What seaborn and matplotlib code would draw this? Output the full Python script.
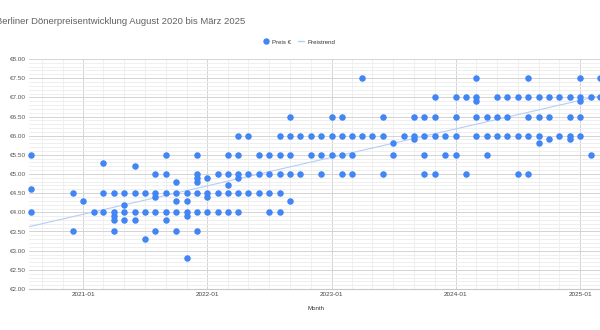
import matplotlib
matplotlib.use("Agg")
import matplotlib.dates as mdates
import matplotlib.pyplot as plt
import pandas as pd
import seaborn as sns
from matplotlib.lines import Line2D
from matplotlib.ticker import FuncFormatter, MultipleLocator

# prices read per month (several shops per month)
months = [
    "2020-08", "2020-12", "2021-01", "2021-02", "2021-03", "2021-04", "2021-05",
    "2021-06", "2021-07", "2021-08", "2021-09", "2021-10", "2021-11", "2021-12",
    "2022-01", "2022-02", "2022-03", "2022-04", "2022-05", "2022-06", "2022-07",
    "2022-08", "2022-09", "2022-10", "2022-11", "2022-12", "2023-01", "2023-02",
    "2023-03", "2023-04", "2023-05", "2023-06", "2023-07", "2023-08", "2023-09",
    "2023-10", "2023-11", "2023-12", "2024-01", "2024-02", "2024-03", "2024-04",
    "2024-05", "2024-06", "2024-07", "2024-08", "2024-09", "2024-10", "2024-11",
    "2024-12", "2025-01", "2025-02", "2025-03",
]
prices = [
    [5.50, 4.60, 4.00], [4.50, 3.50], [4.30], [4.00], [5.30, 4.50, 4.00],
    [4.50, 4.00, 3.90, 3.80, 3.50], [4.50, 4.20, 4.00, 3.80],
    [5.20, 4.50, 4.00, 3.80], [4.50, 4.00, 3.30],
    [5.00, 4.50, 4.40, 4.00, 3.50], [5.50, 5.00, 4.50, 4.00, 3.80],
    [4.80, 4.50, 4.30, 4.00, 3.50], [4.50, 4.30, 4.00, 3.90, 2.80],
    [5.50, 5.00, 4.90, 4.80, 4.50, 4.00, 3.50],
    [4.90, 4.50, 4.40, 4.00], [5.00, 4.50, 4.00], [5.50, 5.00, 4.70, 4.50, 4.00],
    [6.00, 5.50, 5.00, 4.90, 4.50, 4.00], [6.00, 5.00, 4.50], [5.50, 5.00, 4.50],
    [5.50, 5.00, 4.50, 4.00], [6.00, 5.50, 5.00, 4.50, 4.00],
    [6.50, 6.00, 5.50, 5.00, 4.30], [6.00, 5.00], [6.00, 5.50],
    [6.00, 5.50, 5.00], [6.50, 6.00, 5.50], [6.50, 6.00, 5.50, 5.00],
    [6.00, 5.50, 5.00], [7.50, 6.00], [6.00], [6.50, 6.00, 5.00], [5.80, 5.50],
    [6.00], [6.50, 6.00, 5.90], [6.50, 6.00, 5.50, 5.00], [7.00, 6.50, 6.00, 5.00],
    [6.00, 5.50], [7.00, 6.50, 6.00, 5.50], [7.00, 5.00],
    [7.50, 7.00, 6.90, 6.50, 6.00], [6.50, 6.00, 5.50], [7.00, 6.50, 6.00],
    [7.00, 6.50, 6.00], [7.00, 6.00, 5.00], [7.50, 7.00, 6.50, 6.00, 5.00],
    [7.00, 6.50, 6.00, 5.80], [7.00, 6.50, 5.90], [7.00, 6.00],
    [7.00, 6.50, 6.00, 5.90], [7.50, 7.00, 6.90, 6.50, 6.00], [7.00, 5.50],
    [7.50, 7.00],
]

# trend line values at two dates
trend_months = ["2021-01", "2025-01"]
trend_values = [3.95, 6.92]

title = "Berliner Dönerpreisentwicklung August 2020 bis März 2025"
blue = "#4285f4"
trend_color = "#b5cdf7"

rows = []
for m, ps in zip(months, prices):
    for p in ps:
        rows.append({"month": pd.Timestamp(m + "-01"), "price": p})
df = pd.DataFrame(rows)
df["x"] = mdates.date2num(df["month"])

trend = pd.DataFrame({
    "x": mdates.date2num(pd.to_datetime([m + "-01" for m in trend_months])),
    "price": trend_values,
})

sns.set_theme(style="white")
plt.rcParams["font.family"] = ["Liberation Sans", "DejaVu Sans"]

fig = plt.figure(figsize=(6, 3.3), dpi=100)
W, H = 600, 330
ax = fig.add_axes([29 / W, (H - 289) / H, (620 - 29) / W, 230 / H])

x0 = mdates.date2num(pd.Timestamp("2020-07-25"))
x1 = x0 + 591 / 0.33997
ax.set_xlim(x0, x1)
ax.set_ylim(2, 8)

ax.yaxis.set_major_locator(MultipleLocator(0.5))
ax.yaxis.set_minor_locator(MultipleLocator(0.1))
ax.yaxis.set_major_formatter(FuncFormatter(lambda v, _: f"€{v:.2f}"))
ax.xaxis.set_major_locator(mdates.YearLocator())
ax.xaxis.set_minor_locator(mdates.MonthLocator(bymonth=[3, 5, 7, 9, 11]))
ax.xaxis.set_major_formatter(mdates.DateFormatter("%Y-%m"))

ax.grid(which="major", color="#d4d4d4", linewidth=0.7)
ax.grid(which="minor", color="#ededed", linewidth=0.6)
ax.set_axisbelow(True)
for s in ["left", "right", "top"]:
    ax.spines[s].set_visible(False)
ax.spines["bottom"].set_color("#c8c8c8")
ax.spines["bottom"].set_linewidth(0.8)
ax.tick_params(which="both", length=0)
ax.tick_params(axis="y", labelsize=4.6, colors="#555555", pad=2.2)
ax.tick_params(axis="x", labelsize=4.6, colors="#444444", pad=2.2)

# straight trend through the read values, extended over the whole axis
sns.regplot(data=trend, x="x", y="price", ax=ax, scatter=False, ci=None,
            truncate=False, line_kws={"color": trend_color, "linewidth": 0.8})
sns.scatterplot(data=df, x="x", y="price", ax=ax, color=blue, s=22,
                linewidth=0, zorder=3, clip_on=False)
ax.set_xlim(x0, x1)
ax.set_xlabel("")
ax.set_ylabel("")

fig.text(-4 / W, 1 - 22 / H, title, fontsize=6.8, color="#616161",
         ha="left", va="center")
fig.text(316 / W, 1 - 309 / H, "Month", fontsize=4.4, color="#333333",
         ha="center", va="center")
fig.text(1.5 / W, 1 - 178 / H, "Preis €", fontsize=4.4, color="#333333",
         ha="right", va="center", rotation=90)

handles = [
    Line2D([], [], marker="o", linestyle="", color=blue, markersize=3.6),
    Line2D([], [], color=trend_color, linewidth=1),
]
fig.legend(handles, ["Preis €", "Preistrend"], loc="center",
           bbox_to_anchor=(299 / W, 1 - 42 / H), ncol=2, frameon=False,
           fontsize=4.4, handlelength=1.0, handletextpad=0.5,
           columnspacing=1.2, labelcolor="#333333")

fig.savefig("out.png", dpi=100)
